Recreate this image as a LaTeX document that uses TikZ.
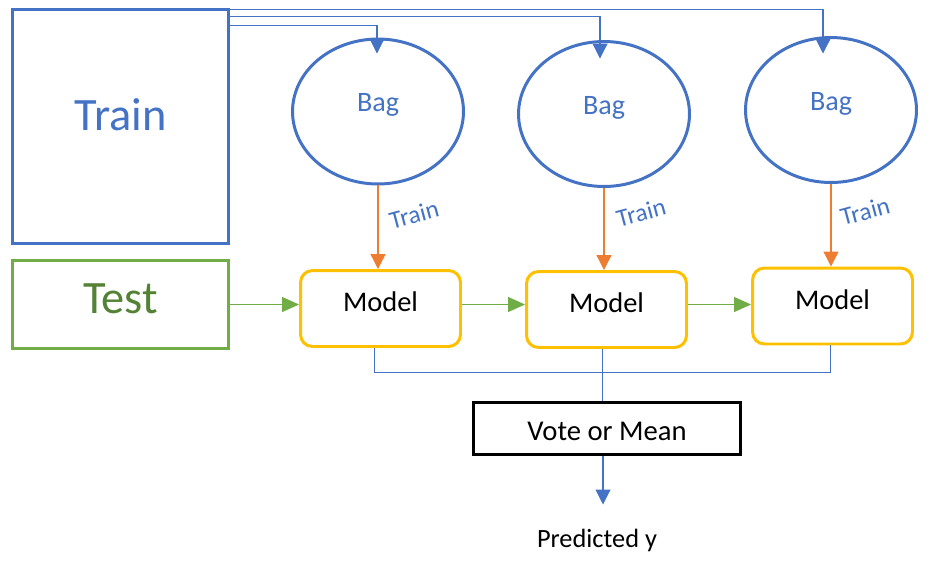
\documentclass[tikz,border=0pt]{standalone}
\usepackage{fontspec}
\setmainfont{Carlito}
\usetikzlibrary{arrows.meta}
\usetikzlibrary{calc}
\usetikzlibrary{shapes.geometric}
\definecolor{offblue}{RGB}{68,114,196}
\definecolor{offgreen}{RGB}{112,173,71}
\definecolor{testgreen}{RGB}{84,130,53}
\definecolor{offorange}{RGB}{237,125,49}
\definecolor{offyellow}{RGB}{255,192,0}
\tikzset{setbox/.style={draw, line width=1.7pt, inner sep=0pt, minimum width=4.32cm, font=\fontsize{26.4}{30}\selectfont}}
\tikzset{bag/.style={ellipse, draw=offblue, line width=1.7pt, text=offblue, inner sep=0pt, minimum width=3.42cm, minimum height=2.9cm, text height=0.25cm, text depth=0.25cm, font=\fontsize{16}{19}\selectfont}}
\tikzset{model/.style={draw=offyellow, line width=1.7pt, rounded corners=0.24cm, inner sep=0pt, minimum width=3.2cm, minimum height=1.52cm, text height=0.3cm, text depth=0.18cm, font=\fontsize{16.2}{19}\selectfont}}
\tikzset{feed/.style={draw=offblue, line width=0.6pt, -{Triangle[length=0.3cm, width=0.3cm]}}}
\tikzset{fit arrow/.style={draw=offorange, line width=0.7pt, -{Triangle[length=0.3cm, width=0.3cm]}}}
\tikzset{testarrow/.style={draw=offgreen, line width=0.7pt, -{Triangle[length=0.34cm, width=0.3cm]}}}
\tikzset{merge/.style={draw=offblue, line width=0.6pt}}
\tikzset{fitlabel/.style={text=offblue, font=\fontsize{14.3}{17}\selectfont, inner sep=0pt}}

\begin{document}
\begin{tikzpicture}[x=0.02cm, y=-0.02cm]
\useasboundingbox (0,0) rectangle (928,562);
\node[setbox, draw=offblue, text=offblue, minimum height=4.68cm, text height=0.5cm, text depth=0.36cm] (train) at (120.5,126.5) {Train};
\node[setbox, draw=offgreen, text=testgreen, minimum height=1.76cm, text height=0.5cm, text depth=0.16cm] (test) at (120.5,304.5) {Test};
\node[bag] (bag1) at (378,111.5) {Bag};
\node[bag] (bag2) at (604,114) {Bag};
\node[bag] (bag3) at (831,110) {Bag};
\node[model] (model1) at (380.5,308.5) {Model};
\node[model] (model2) at (606.5,309.5) {Model};
\node[model] (model3) at (832.5,306) {Model};
\node[draw, line width=1.7pt, inner sep=0pt, minimum width=5.34cm, minimum height=1.04cm, text height=0.46cm, text depth=0cm, font=\fontsize{16.3}{19}\selectfont] (vote) at (607,428.5) {Vote or Mean};
\node[font=\fontsize{15}{18}\selectfont, inner sep=0pt] (pred) at (597,540) {Predicted y};
\coordinate (tip) at ($(vote.south)+(-4,48.5)$);
\draw[feed] ($(train.north east)+(0,1.5)$) -| ($(bag3.north)+(-8,17.5)$);
\draw[feed] ($(train.north east)+(0,8)$) -| ($(bag2.north)+(-4,18.5)$);
\draw[feed] ($(train.north east)+(0,17)$) -| ($(bag1.north)+(-1,16)$);
\draw[fit arrow] (bag1.south) -- (bag1.south |- model1.north) node[fitlabel, pos=0.35, xshift=0.72cm, rotate=15] {Train};
\draw[fit arrow] (bag2.south) -- (bag2.south |- model2.north) node[fitlabel, pos=0.3, xshift=0.74cm, rotate=15] {Train};
\draw[fit arrow] (bag3.south) -- (bag3.south |- model3.north) node[fitlabel, pos=0.33, xshift=0.68cm, rotate=15] {Train};
\draw[testarrow] (test.east) -- (test.east -| model1.west);
\draw[testarrow] (model1.east |- test.east) -- (test.east -| model2.west);
\draw[testarrow] (model2.east |- test.east) -- (test.east -| model3.west);
\draw[merge] ($(model1.south)+(-6,0)$) -- ++(0,24.5) -| ($(model3.south)+(-2,0)$);
\draw[merge] ($(model2.south)+(-4,0)$) -- ($(model2.south |- vote.north)+(-4,0)$);
\draw[merge, -{Triangle[length=0.3cm, width=0.3cm]}] ($(vote.south)+(-4,0)$) -- (tip);
\end{tikzpicture}
\end{document}
